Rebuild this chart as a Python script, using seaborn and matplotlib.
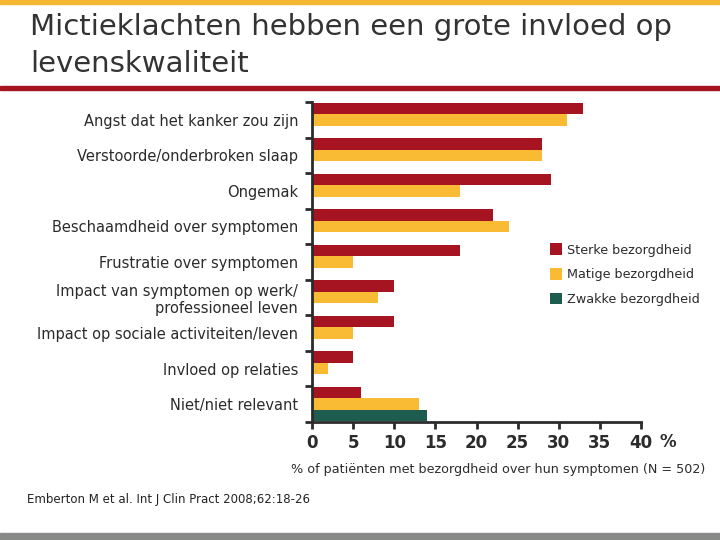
import numpy as np
import pandas as pd
import seaborn as sns
import matplotlib.pyplot as plt
from matplotlib.patches import Patch, Rectangle

# data (% of patients)
categories = ["Angst dat het kanker zou zijn",
              "Verstoorde/onderbroken slaap",
              "Ongemak",
              "Beschaamdheid over symptomen",
              "Frustratie over symptomen",
              "Impact van symptomen op werk/\nprofessioneel leven",
              "Impact op sociale activiteiten/leven",
              "Invloed op relaties",
              "Niet/niet relevant"]
groups = ["Sterke bezorgdheid", "Matige bezorgdheid", "Zwakke bezorgdheid"]
sterk = [33, 28, 29, 22, 18, 10, 10, 5, 6]
matig = [31, 28, 18, 24, 5, 8, 5, 2, 13]
zwak = [None, None, None, None, None, None, None, None, 14]
x_ticks = [0, 5, 10, 15, 20, 25, 30, 35, 40]

colors = ["#A51420", "#F8BB33", "#1D5C4E"]
dark = "#2b2b2b"

rows = []
for g, vals in zip(groups, [sterk, matig, zwak]):
    for c, v in zip(categories, vals):
        if v is not None:
            rows.append({"categorie": c, "groep": g, "pct": v})
df = pd.DataFrame(rows)

sns.set_style("white")
plt.rcParams["font.family"] = ["DejaVu Sans"]

fig = plt.figure(figsize=(7.2, 5.4), dpi=100)
ax = fig.add_axes([312 / 720, 1 - 422 / 540, (641 - 312) / 720, (422 - 102) / 540])

sns.barplot(data=df, y="categorie", x="pct", hue="groep", order=categories,
            hue_order=groups, palette=colors, orient="h", width=0.97,
            errorbar=None, legend=False, ax=ax, saturation=1, linewidth=0)

ax.set_xlim(0, 40)
ax.set_ylim(len(categories) - 0.5, -0.5)
ax.set_xlabel("")
ax.set_ylabel("")

# category labels at group centres, tick marks on group boundaries
ax.set_yticks(range(len(categories)))
ax.set_yticklabels(categories, fontsize=10.5, color=dark)
ax.tick_params(axis="y", which="major", left=True, length=0, pad=10)
ax.set_yticks(np.arange(-0.5, len(categories), 1), minor=True)
ax.tick_params(axis="y", which="minor", left=True, length=5, width=2, color=dark,
               direction="out")

ax.set_xticks(x_ticks)
ax.set_xticklabels([str(t) for t in x_ticks], fontsize=12, fontweight="bold", color=dark)
ax.tick_params(axis="x", bottom=True, length=5, width=2, color=dark, direction="out", pad=4)

for s in ["top", "right"]:
    ax.spines[s].set_visible(False)
for s in ["left", "bottom"]:
    ax.spines[s].set_color(dark)
    ax.spines[s].set_linewidth(2)

ax.text(43.3, -0.035, "%", transform=ax.get_xaxis_transform(), ha="center", va="top",
        fontsize=12, fontweight="bold", color=dark, clip_on=False)

handles = [Patch(facecolor=c, edgecolor="none") for c in colors]
ax.legend(handles, groups, loc="upper left", bbox_to_anchor=(538 / 720, 1 - 232 / 540),
          bbox_transform=fig.transFigure, frameon=False, fontsize=9.2,
          handlelength=1.0, handleheight=1.0, handletextpad=0.35, labelspacing=0.9,
          labelcolor=dark)

# title, rules and footnote
fig.text(30 / 720, 1 - 35 / 540, "Mictieklachten hebben een grote invloed op",
         fontsize=21, color="#333333", ha="left", va="baseline")
fig.text(30 / 720, 1 - 72 / 540, "levenskwaliteit",
         fontsize=21, color="#333333", ha="left", va="baseline")
fig.patches.append(Rectangle((0, 1 - 4 / 540), 1, 4 / 540, transform=fig.transFigure,
                             color="#F5B731", zorder=0))
fig.patches.append(Rectangle((0, 1 - 90 / 540), 1, 4 / 540, transform=fig.transFigure,
                             color="#A51420", zorder=0))
fig.patches.append(Rectangle((0, 0), 1, 7 / 540, transform=fig.transFigure,
                             color="#888A88", zorder=0))

fig.text(498 / 720, 1 - 470 / 540, "% of patiënten met bezorgdheid over hun symptomen (N = 502)",
         fontsize=9.2, color=dark, ha="center", va="center")
fig.text(27 / 720, 1 - 499 / 540, "Emberton M et al. Int J Clin Pract 2008;62:18-26",
         fontsize=8.5, color="#222222", ha="left", va="center")

fig.savefig("out.png", dpi=100)
